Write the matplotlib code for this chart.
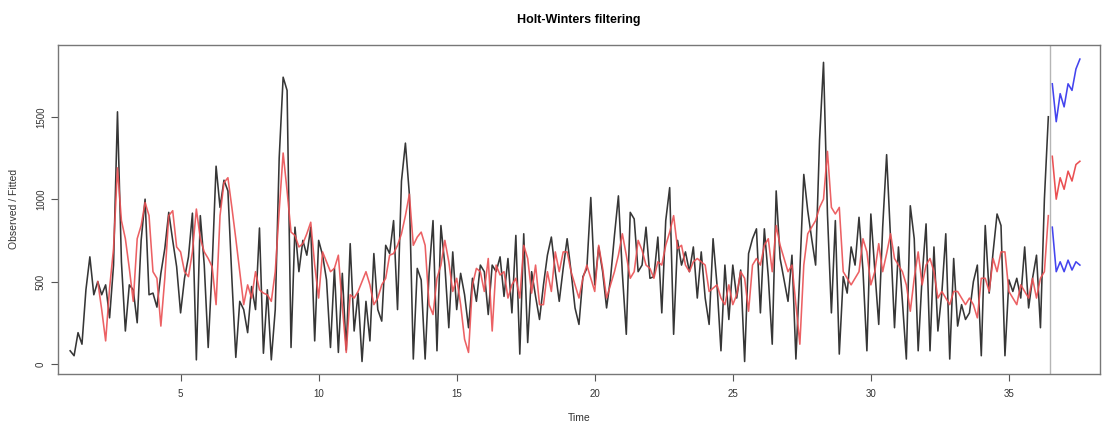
import numpy as np
import matplotlib.pyplot as plt

plt.rcParams['font.family'] = ['Liberation Sans', 'DejaVu Sans']

freq = 7
start = 1

observed = [
    80, 50, 190, 120, 450, 650, 420, 500, 420, 480, 280, 600, 1530, 620, 200, 480, 450, 250, 750, 1000,
    420, 430, 345, 550, 700, 920, 750, 590, 310, 520, 650, 915, 25, 900, 600, 100, 590, 1200, 950, 1115,
    1050, 520, 40, 380,
    330, 190, 470, 330, 825, 65, 450, 25, 330, 1250, 1740, 1660, 100, 830, 560, 750, 660, 830, 140, 750,
    660, 510, 100,
    580, 70, 550, 85, 730, 200, 430, 15, 380, 140, 670, 330, 260, 720, 670, 870, 330, 1110, 1340, 1030,
    30, 580, 510,
    30, 550, 870, 80, 840, 600, 220, 680, 330, 550, 420, 220, 520, 380, 600, 560, 300, 600, 560, 650,
    410, 640, 310,
    780, 60, 790, 130, 560, 410, 270, 480, 660, 770, 560, 380, 580, 760, 560, 340, 240, 530, 580, 1010,
    480, 710, 560,
    340, 520, 780, 1020, 550, 180, 920, 880, 560, 600, 830, 520, 530, 770, 310, 870, 1070, 180, 750, 600,
    680, 560, 710,
    400, 680, 400, 240, 760, 480, 80, 600, 270, 600, 400, 570, 15, 670, 760, 820, 310, 820, 530, 120,
    1050, 640, 510,
    380, 660, 30, 560, 1150, 930, 760, 600, 1360, 1830, 910, 310, 870, 60, 530, 430, 710, 600, 890, 570,
    80,
    910, 570, 240, 830, 1270, 760, 220, 710, 380, 30, 960, 760, 80, 530, 850, 80, 710, 200, 430, 790,
    30, 640, 230, 360, 270,
    310, 500, 600, 50, 840, 430, 680, 910, 840, 50, 510, 440, 520, 400, 710, 340, 520, 660, 220, 1000,
    1500,
]

# fitted values start after the first season
fitted = [
    500, 330, 140, 460, 700, 1190, 870, 760, 580, 380, 760, 840, 980,
    900, 560, 520, 230, 520, 900, 930, 710, 680, 560, 530, 680, 940, 760, 680, 640, 590, 360, 900, 1100,
    1130, 950, 760, 560,
    360, 480, 400, 560, 450, 430, 420, 380, 560, 930, 1280, 1050, 800, 780, 710, 730, 790, 860, 600, 400,
    680, 620, 560,
    580, 660, 350, 70, 420, 400, 440, 500, 560, 480, 360, 400, 480, 520, 660, 670, 720, 790, 900, 1030,
    720, 770, 800,
    720, 360, 300, 520, 600, 750, 620, 440, 520, 360, 150, 70, 480, 580, 560, 440, 640, 200, 600, 540,
    560, 400, 480,
    520, 400, 720, 640, 430, 600, 360, 360, 560, 440, 680, 560, 680, 680, 560, 480, 400, 520, 600, 520,
    440, 720, 580,
    400, 480, 560, 660, 790, 660, 520, 560, 750, 690, 600, 580, 520, 620, 600, 720, 800, 900, 700, 720,
    600, 560, 620,
    640, 620, 600, 440, 460, 480, 400, 360, 480, 360, 420, 560, 520, 320, 600, 640, 600, 720, 760, 560,
    840, 720, 640,
    560, 600, 360, 120, 600, 790, 830, 870, 950, 1000, 1290, 950, 910, 950, 560, 520, 480, 520, 560, 760,
    680, 480, 560,
    730, 560, 670, 790, 640, 600, 560, 480, 320, 520, 680, 480, 600, 640, 560, 400, 440, 400, 360, 440,
    440, 400, 360,
    400, 360, 280, 520, 520, 440, 640, 560, 680, 680, 440, 400, 360, 480, 440, 400, 520, 400, 520, 560,
    900,
]

pred_fit = [1260, 1000, 1130, 1060, 1170, 1110, 1210, 1230]
pred_upr = [1700, 1470, 1640, 1560, 1700, 1660, 1790, 1850]
pred_lwr = [830, 560, 620, 560, 630, 570, 620, 600]

n = len(observed)
t_obs = start + np.arange(n) / freq
t_fit = t_obs[n - len(fitted):]
t_pred = start + (n + np.arange(len(pred_fit))) / freq

fig = plt.figure(figsize=(11.1, 4.26), dpi=100)
ax = fig.add_axes([0.052, 0.122, 0.939, 0.773])

ax.plot(t_obs, observed, color='#363636', lw=1.15)
ax.plot(t_fit, fitted, color='#ea5053', lw=1.15, alpha=0.9)
ax.plot(t_pred, pred_fit, color='#ea5053', lw=1.15)
ax.plot(t_pred, pred_upr, color='#4444ee', lw=1.15)
ax.plot(t_pred, pred_lwr, color='#4444ee', lw=1.15)
ax.axvline(start + (n - 0.5) / freq, color='#b5b5b5', lw=1)

ax.set_xlim(0.55, 38.3)
ax.set_ylim(-61, 1937)
ax.set_xticks([5, 10, 15, 20, 25, 30, 35])
ax.set_yticks([0, 500, 1000, 1500])
ax.tick_params(axis='both', colors='#555555', labelcolor='#333333', labelsize=7, length=5, width=0.8)
ax.tick_params(axis='x', pad=6)
for lab in ax.get_yticklabels():
    lab.set_rotation(90)
    lab.set_verticalalignment('center')
for s in ax.spines.values():
    s.set_color('#777777')
    s.set_linewidth(1)

ax.set_xlabel('Time', fontsize=7.5, color='#333333', labelpad=10)
ax.set_ylabel('Observed / Fitted', fontsize=7.5, color='#333333', labelpad=12)
ax.set_title('Holt-Winters filtering', fontsize=9, fontweight='bold', pad=16)

fig.savefig('out.png', dpi=100)
